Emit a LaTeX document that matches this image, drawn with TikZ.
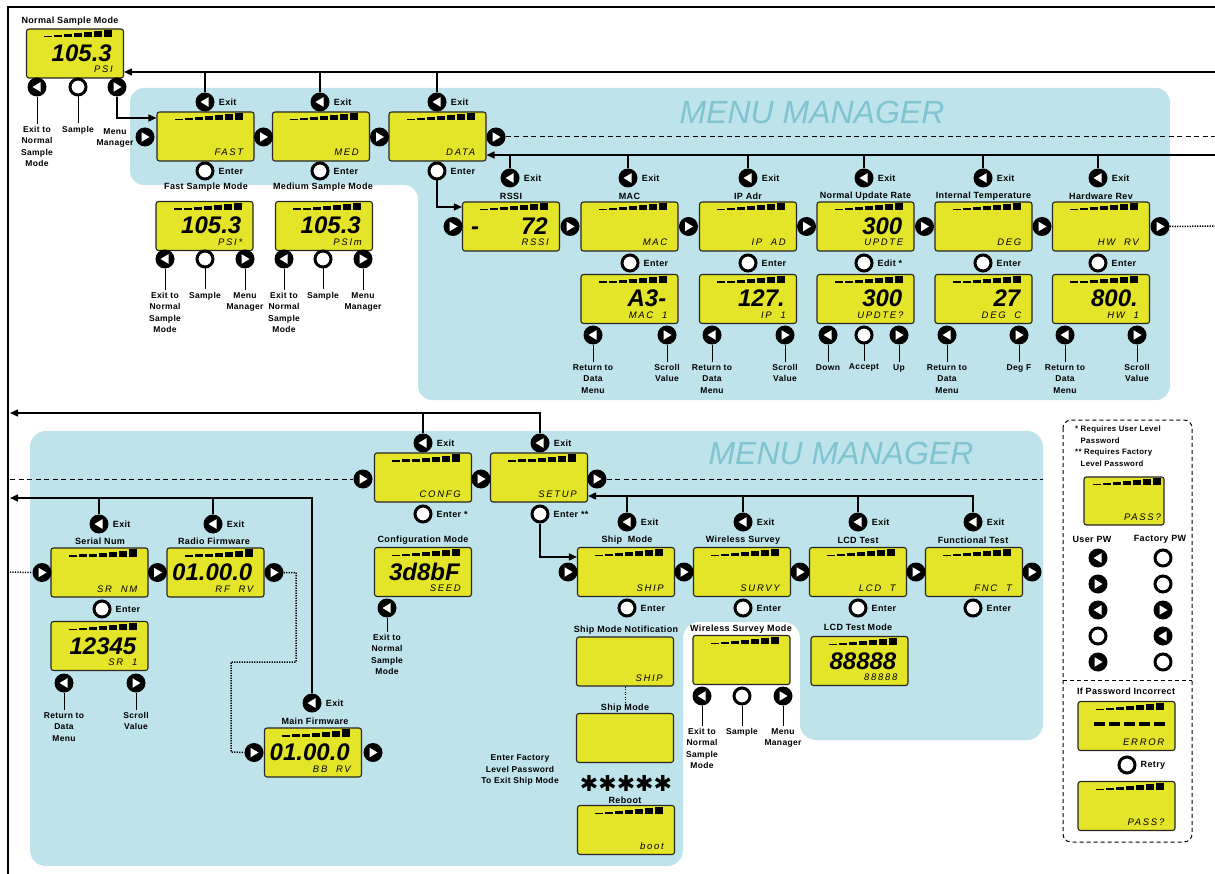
\documentclass[tikz,border=0pt]{standalone}
\usepackage{fontspec}
\setmainfont{Liberation Sans}
\newfontfamily\lcdsm{Liberation Sans}[LetterSpace=18]
\newfontfamily\lblf{Liberation Sans}[LetterSpace=4]
\newfontfamily\djv{DejaVu Sans}
\usetikzlibrary{calc,arrows.meta}
\definecolor{lcdY}{RGB}{228,228,40}
\definecolor{bgB}{RGB}{190,227,234}
\definecolor{mmC}{RGB}{128,196,210}
\tikzset{
 lcdbox/.style={draw=black!85, fill=lcdY, line width=1.1pt, rounded corners=2.5pt, minimum width=97pt, minimum height=49pt, inner sep=0pt},
 btn/.style={circle, inner sep=0pt, minimum size=19pt},
 bL/.style={btn, fill=black, path picture={\fill[white] ([xshift=-4.5pt]path picture bounding box.center) -- ++(8pt,4.8pt) -- ++(0pt,-9.6pt) -- cycle;}},
 bR/.style={btn, fill=black, path picture={\fill[white] ([xshift=4.5pt]path picture bounding box.center) -- ++(-8pt,4.8pt) -- ++(0pt,-9.6pt) -- cycle;}},
 bC/.style={btn, draw=black, line width=3pt, fill=white, minimum size=16pt},
 lbl/.style={font=\lblf\bfseries\fontsize{8.5}{11.5}\selectfont, align=center, inner sep=0pt},
 ttl/.style={font=\lblf\bfseries\fontsize{9}{10}\selectfont, align=center, inner sep=0pt},
 elbl/.style={font=\lblf\bfseries\fontsize{9}{10}\selectfont, inner sep=0pt, anchor=west, xshift=4pt},
 bigt/.style={font=\bfseries\itshape\fontsize{24}{24}\selectfont, inner sep=0pt, anchor=base east},
 smt/.style={font=\lcdsm\itshape\fontsize{9.5}{10}\selectfont, inner sep=0pt, anchor=base east},
 mmt/.style={font=\itshape\fontsize{32}{32}\selectfont, text=mmC, inner sep=0pt},
 conn/.style={line width=1.5pt},
 arr/.style={conn, -{Triangle[length=8pt,width=7pt]}},
 tline/.style={line width=1pt},
 dsh/.style={line width=1pt, dash pattern=on 5pt off 3.5pt},
 dot1/.style={line width=1.5pt, dash pattern=on 1.2pt off 1.3pt},
}
\newcommand\lcdbars[1]{\foreach \i/\h in {0/1.5,1/2.2,2/3,3/4,4/5,5/6,6/7.2}{\fill ($(#1.center)+(-31+\i*10,-16)$) rectangle ++(8,-\h);}}
\newcommand\lcdD[4]{\node[lcdbox] (#1) at (#2) {};\lcdbars{#1}\node[bigt] at ($(#1.center)+(37,8)$) {#3};\node[smt] at ($(#1.center)+(38,19.5)$) {#4};}
\newcommand\lcdN[3]{\node[lcdbox] (#1) at (#2) {};\node[smt] at ($(#1.center)+(38,19.5)$) {#3};}
\newcommand\exitb[2]{\node[bL] (#1) at (#2) {};\node[elbl] at (#1.east) {Exit};}
\newcommand\enterb[3]{\node[bC] (#1) at (#2) {};\node[elbl] at (#1.east) {#3};}
\newcommand\btnlab[5]{\node[#1] (#2) at (#3) {};\draw[tline] (#2.south) -- ++(0,#4) node[lbl,anchor=north,yshift=-2pt] {#5};}
\begin{document}
\begin{tikzpicture}[x=1pt,y=-1pt]
\useasboundingbox (0,0) rectangle (1215,874);
\fill[white] (0,0) rectangle (1215,874);
% backgrounds
\fill[bgB, rounded corners=14pt] (130,88) -- (1170,88) -- (1170,400) -- (418,400) -- (418,185) -- (130,185) -- cycle;
\fill[bgB, rounded corners=16pt] (30,431) -- (1043,431) -- (1043,740) -- (800,740) -- (800,622) -- (683,622) -- (683,866) -- (30,866) -- cycle;
\draw[line width=1.3pt] (8,874) -- (8,7) -- (1215,7);
\node[mmt] at (812,112) {MENU MANAGER};
\node[mmt] at (841,453) {MENU MANAGER};
% level coordinates
\coordinate (yTop) at (1215,72);
\coordinate (yMM) at (0,118);
\coordinate (yDash1) at (1215,137);
\coordinate (yData) at (1215,155);
\coordinate (yRssi) at (0,207);
\coordinate (yDot) at (1215,226);
\coordinate (yMid) at (10,413);
\coordinate (yDash2L) at (10,479);
\coordinate (yDash2R) at (1043,479);
\coordinate (ySetup) at (0,496);
\coordinate (yShip) at (0,557);
\coordinate (yLeft) at (10,498);
\coordinate (dL) at (10,572);
\coordinate (dA) at (296,662);
\coordinate (dB) at (231,752);
% ---------- Normal sample mode
\node[ttl] at (70,21) {Normal Sample Mode};
\lcdD{nsm}{75,53.5}{105.3}{PSI}
\btnlab{bL}{nsmL}{37,87}{27}{Exit to\\Normal\\Sample\\Mode}
\btnlab{bC}{nsmC}{78,87}{27}{Sample}
\node[bR] (nsmR) at (117,87) {};
\node[lbl, anchor=north] at (115,128) {Menu\\Manager};
% ---------- top menu row
\lcdD{fast}{205.5,136.5}{}{FAST}
\lcdD{med}{321,136.5}{}{MED}
\lcdD{data}{437.5,136.5}{}{DATA}
\node[bR] (fastIn) at (145,137) {};
\node[bR] (fastR) at (263.5,137) {};
\node[bR] (medR) at (379.5,137) {};
\node[bR] (dataR) at (496,137) {};
\exitb{fastX}{205,102}
\exitb{medX}{320,102}
\exitb{dataX}{437,102}
\enterb{fastEn}{205,171}{Enter}
\enterb{medEn}{320,171}{Enter}
\enterb{dataEn}{437,171}{Enter}
% fast / medium sample modes
\node[ttl] at (206,187) {Fast Sample Mode};
\node[ttl] at (323,187) {Medium Sample Mode};
\lcdD{fsm}{204.5,226}{105.3}{PSI*}
\lcdD{msm}{324,226}{105.3}{PSIm}
\btnlab{bL}{fsmL}{165,259}{21}{Exit to\\Normal\\Sample\\Mode}
\btnlab{bC}{fsmC}{205,259}{21}{Sample}
\btnlab{bR}{fsmR}{245,259}{21}{Menu\\Manager}
\btnlab{bL}{msmL}{284,259}{21}{Exit to\\Normal\\Sample\\Mode}
\btnlab{bC}{msmC}{323,259}{21}{Sample}
\btnlab{bR}{msmR}{363,259}{21}{Menu\\Manager}
% ---------- data submenu
\node[ttl] at (511,196) {RSSI};
\node[ttl] at (629.5,196) {MAC};
\node[ttl] at (748,196) {IP Adr};
\node[ttl] at (865.5,196) {Normal Update Rate};
\node[ttl] at (983.5,196) {Internal Temperature};
\node[ttl] at (1101,196) {Hardware Rev};
\lcdD{rssi}{511,226.5}{72}{RSSI}
\node[bigt, anchor=base west] at ($(rssi.center)+(-40,8)$) {-};
\lcdD{mac}{629.5,226.5}{}{MAC}
\lcdD{ip}{748,226.5}{}{IP~~AD}
\lcdD{nur}{865.5,226.5}{300}{UPDTE}
\lcdD{it}{983.5,226.5}{}{DEG}
\lcdD{hw}{1101,226.5}{}{HW~~RV}
\node[bR] (rssiIn) at (453,226.5) {};
\node[bR] (rssiR) at (570,226.5) {};
\node[bR] (macR) at (688.5,226.5) {};
\node[bR] (ipR) at (806.5,226.5) {};
\node[bR] (nurR) at (924.5,226.5) {};
\node[bR] (itR) at (1042,226.5) {};
\node[bR] (hwR) at (1160,226.5) {};
\exitb{rssiX}{510,178}
\exitb{macX}{628,178}
\exitb{ipX}{748,178}
\exitb{nurX}{864,178}
\exitb{itX}{983,178}
\exitb{hwX}{1098,178}
\enterb{macEn}{630,263}{Enter}
\enterb{ipEn}{748,263}{Enter}
\enterb{nurEn}{864,263}{Edit *}
\enterb{itEn}{983,263}{Enter}
\enterb{hwEn}{1098,263}{Enter}
\lcdD{mac1}{629.5,299}{A3-}{MAC~~1}
\lcdD{ip1}{748,299}{127.}{IP~~1}
\lcdD{nur1}{865.5,299}{300}{UPDTE?}
\lcdD{it1}{983.5,299}{27}{DEG~~C}
\lcdD{hw1}{1101,299}{800.}{HW~~1}
\btnlab{bL}{mac1L}{593,335}{17}{Return to\\Data\\Menu}
\btnlab{bR}{mac1R}{667,335}{17}{Scroll\\Value}
\btnlab{bL}{ip1L}{712,335}{17}{Return to\\Data\\Menu}
\btnlab{bR}{ip1R}{785,335}{17}{Scroll\\Value}
\btnlab{bL}{nur1L}{828,335}{17}{Down}
\btnlab{bC}{nur1C}{864,335}{17}{Accept}
\btnlab{bR}{nur1R}{899,335}{17}{Up}
\btnlab{bL}{it1L}{947,335}{17}{Return to\\Data\\Menu}
\btnlab{bR}{it1R}{1019,335}{17}{Deg F}
\btnlab{bL}{hw1L}{1065,335}{17}{Return to\\Data\\Menu}
\btnlab{bR}{hw1R}{1137,335}{17}{Scroll\\Value}
% ---------- top connectors
\draw[arr] (yTop) -- (nsm.east |- yTop);
\foreach \n in {fastX,medX,dataX} \draw[conn] (\n.north) -- (\n |- yTop);
\draw[arr] (nsmR.south) -- (nsmR |- yMM) -- (fast.west |- yMM);
\draw[dsh] (dataR.east) -- (yDash1);
\draw[arr] (yData) -- (data.east |- yData);
\foreach \n in {rssiX,macX,ipX,nurX,itX,hwX} \draw[conn] (\n.north) -- (\n |- yData);
\draw[dot1] (hwR.east) -- (yDot);
\draw[arr] (dataEn.south) -- (dataEn |- yRssi) -- (rssi.west |- yRssi);
% ---------- second menu manager
\exitb{confX}{423,443}
\exitb{setX}{540,443}
\lcdD{confg}{423,477.5}{}{CONFG}
\lcdD{setup}{539,477.5}{}{SETUP}
\node[bR] (confIn) at (363,479) {};
\node[bR] (confR) at (481,479) {};
\node[bR] (setR) at (597,479) {};
\enterb{confEn}{423,514}{Enter *}
\enterb{setEn}{540,514}{Enter **}
\node[ttl] at (423,540) {Configuration Mode};
\lcdD{cfg}{423,572}{3d8bF}{SEED}
\btnlab{bL}{cfgL}{387,608}{14}{Exit to\\Normal\\Sample\\Mode}
\exitb{shipX}{627,522}
\exitb{wlsX}{743,522}
\exitb{lcdX}{858,522}
\exitb{fncX}{973,522}
\node[ttl] at (627,540) {Ship~ Mode};
\node[ttl] at (743,540) {Wireless Survey};
\node[ttl] at (858,540) {LCD Test};
\node[ttl] at (973,540) {Functional Test};
\lcdD{ship}{626,572}{}{SHIP}
\lcdD{wls}{742,572}{}{SURVY}
\lcdD{lcdt}{858,572}{}{LCD~~T}
\lcdD{fnc}{974,572}{}{FNC~~T}
\node[bR] (shipIn) at (568,572) {};
\node[bR] (shipR) at (684,572) {};
\node[bR] (wlsR) at (800,572) {};
\node[bR] (lcdR) at (916,572) {};
\node[bR] (fncR) at (1032,572) {};
\enterb{shipEn}{627,608}{Enter}
\enterb{wlsEn}{743,608}{Enter}
\enterb{lcdEn}{858,608}{Enter}
\enterb{fncEn}{973,608}{Enter}
\node[ttl] at (626,630) {Ship Mode Notification};
\lcdN{shipN}{625,661.5}{SHIP}
\coordinate (shipMt) at (625,703);
\draw[dot1, line width=0.8pt] (shipN.south) -- (shipMt);
\node[ttl] at (625,708) {Ship Mode};
\lcdN{shipM}{625,738}{}
\node[font=\djv\bfseries\fontsize{22}{22}\selectfont, inner sep=0pt] at (626,783) {✱✱✱✱✱};
\node[ttl] at (625,800) {Reboot};
\lcdD{reboot}{626,830}{}{boot}
\node[lbl] at (520,770) {Enter Factory\\Level Password\\To Exit Ship Mode};
\node[ttl] at (741,629) {Wireless Survey Mode};
\lcdD{wsm}{741.5,660}{}{}
\btnlab{bL}{wsmL}{702,696}{20}{Exit to\\Normal\\Sample\\Mode}
\btnlab{bC}{wsmC}{742,696}{20}{Sample}
\btnlab{bR}{wsmR}{783,696}{20}{Menu\\Manager}
\node[ttl] at (858,627) {LCD Test Mode};
\lcdD{lcdm}{859.5,661}{88888}{88888}
% connectors
\draw[arr] (setX.north) -- (setX |- yMid) -- (yMid);
\draw[conn] (confX.north) -- (confX |- yMid);
\draw[dsh] (yDash2L) -- (confIn.west);
\draw[dsh] (setR.east) -- (yDash2R);
\draw[arr] (fncX.north) -- (fncX |- ySetup) -- (setup.east |- ySetup);
\foreach \n in {shipX,wlsX,lcdX} \draw[conn] (\n.north) -- (\n |- ySetup);
\draw[arr] (setEn.south) -- (setEn |- yShip) -- (ship.west |- yShip);
% ---------- left part
\exitb{snX}{99,524}
\exitb{rfX}{213,524}
\node[ttl] at (100,541) {Serial Num};
\node[ttl] at (214,541) {Radio Firmware};
\lcdD{sn}{99.5,572.5}{}{SR~~NM}
\lcdD{rf}{215.5,572.5}{01.00.0}{RF~~RV}
\node[bR] (snIn) at (42,572.5) {};
\node[bR] (snR) at (157.5,572.5) {};
\node[bR] (rfR) at (274,572.5) {};
\enterb{snEn}{102,609}{Enter}
\lcdD{sn1}{99.5,646}{12345}{SR~~1}
\btnlab{bL}{sn1L}{64,683}{17}{Return to\\Data\\Menu}
\btnlab{bR}{sn1R}{136,683}{17}{Scroll\\Value}
\exitb{mfX}{312,703}
\node[ttl] at (315,721) {Main Firmware};
\lcdD{mf}{313,752.5}{01.00.0}{BB~~RV}
\node[bR] (mfIn) at (254,752.5) {};
\node[bR] (mfR) at (373,752.5) {};
\draw[arr] (mfX.north) -- (mfX |- yLeft) -- (yLeft);
\foreach \n in {snX,rfX} \draw[conn] (\n.north) -- (\n |- yLeft);
\draw[dot1] (dL) -- (snIn.west);
\draw[dot1] (rfR.east) -| (dA) -| (dB) -- (mfIn.west);
% ---------- legend
\draw[line width=1pt, dash pattern=on 4pt off 3pt, rounded corners=8pt] (1063,420) rectangle (1192,842);
\draw[line width=1pt, dash pattern=on 4pt off 3pt] (1063,680) -- (1192,680);
\node[lbl, font=\lblf\bfseries\fontsize{7.8}{11.5}\selectfont, align=left, anchor=north west] at (1075,426) {* Requires User Level\\\hphantom{*} Password\\** Requires Factory\\\hphantom{*} Level Password};
\node[lcdbox, minimum width=80pt, minimum height=48pt] (pw1) at (1124,501) {};
\lcdbars{pw1}
\node[smt] at ($(pw1.center)+(37,19.5)$) {PASS?};
\node[ttl] at (1092,539) {User PW};
\node[ttl] at (1160,539) {Factory PW};
\node[bL] (u1) at (1098,558) {};
\node[bR] (u2) at (1098,584) {};
\node[bL] (u3) at (1098,610) {};
\node[bC] (u4) at (1098,636) {};
\node[bR] (u5) at (1098,662) {};
\node[bC] (f1) at (1163,558) {};
\node[bC] (f2) at (1163,584) {};
\node[bR] (f3) at (1163,610) {};
\node[bL] (f4) at (1163,636) {};
\node[bC] (f5) at (1163,662) {};
\node[ttl] at (1126,691) {If Password Incorrect};
\lcdD{err}{1126.5,726}{}{ERROR}
\foreach \i in {0,...,4} \fill ($(err.center)+(-33+\i*15,-4)$) rectangle ++(11,4);
\enterb{retry}{1127,765}{Retry}
\lcdD{pw2}{1126.5,806}{}{PASS?}
\end{tikzpicture}
\end{document}
